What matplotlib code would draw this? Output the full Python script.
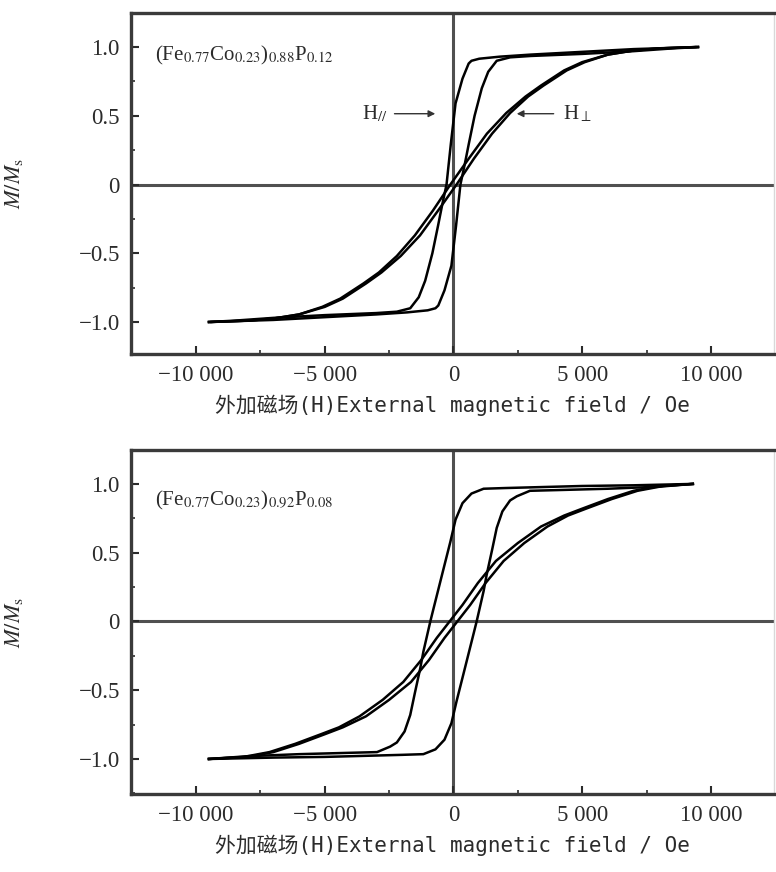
import matplotlib
matplotlib.use("Agg")
import matplotlib.pyplot as plt
from matplotlib.ticker import MultipleLocator

plt.rcParams['mathtext.fontset'] = 'stix'

# tick positions / labels
x_ticks = [-10000, -5000, 0, 5000, 10000]
x_tick_labels = ["\u221210 000", "\u22125 000", "0", "5 000", "10 000"]
y_ticks = [-1.0, -0.5, 0, 0.5, 1.0]
y_tick_labels = ["\u22121.0", "\u22120.5", "0", "0.5", "1.0"]

# ---- top panel: (Fe0.77Co0.23)0.88P0.12 ----
top_par_down_x = [9500, 7000, 5000, 3000, 1800, 1000, 700, 590, 350, 80, -100, -270, -430,
                  -600, -820, -1100, -1350, -1680, -2200, -3000, -5000, -7000, -8500, -9500]
top_par_down_y = [1.0, 0.985, 0.965, 0.945, 0.93, 0.915, 0.90, 0.88, 0.77, 0.59, 0.30, 0.0, -0.14,
                  -0.30, -0.50, -0.70, -0.82, -0.90, -0.925, -0.935, -0.95, -0.97, -0.99, -1.0]
top_par_up_x = [-9500, -7000, -5000, -3000, -1800, -1000, -700, -590, -350, -80, 100, 270, 430,
                600, 820, 1100, 1350, 1680, 2200, 3000, 5000, 7000, 8500, 9500]
top_par_up_y = [-1.0, -0.985, -0.965, -0.945, -0.93, -0.915, -0.90, -0.88, -0.77, -0.59, -0.30, 0.0, 0.14,
                0.30, 0.50, 0.70, 0.82, 0.90, 0.925, 0.935, 0.95, 0.97, 0.99, 1.0]

top_perp_down_x = [9400, 8000, 7000, 6000, 5000, 4300, 3400, 2800, 2050, 1300, 600, -120, -800,
                   -1500, -2200, -2900, -3500, -4400, -5100, -6000, -7000, -8000, -9500]
top_perp_down_y = [1.0, 0.99, 0.975, 0.945, 0.89, 0.83, 0.72, 0.64, 0.52, 0.37, 0.19, 0.0, -0.19,
                   -0.37, -0.52, -0.64, -0.72, -0.83, -0.89, -0.945, -0.975, -0.99, -1.0]
top_perp_up_x = [-9400, -8000, -7000, -6000, -5000, -4300, -3400, -2800, -2050, -1300, -600, 120, 800,
                 1500, 2200, 2900, 3500, 4400, 5100, 6000, 7000, 8000, 9500]
top_perp_up_y = [-1.0, -0.99, -0.975, -0.945, -0.89, -0.83, -0.72, -0.64, -0.52, -0.37, -0.19, 0.0, 0.19,
                 0.37, 0.52, 0.64, 0.72, 0.83, 0.89, 0.945, 0.975, 0.99, 1.0]

# ---- bottom panel: (Fe0.77Co0.23)0.92P0.08 ----
bot_par_down_x = [9300, 7000, 5000, 3000, 2000, 1170, 700, 350, 80, -120, -390, -780, -900,
                  -1170, -1290, -1500, -1680, -1900, -2200, -2460, -2970, -4000, -6000, -8000, -9500]
bot_par_down_y = [1.0, 0.99, 0.985, 0.975, 0.97, 0.965, 0.93, 0.86, 0.74, 0.58, 0.38, 0.09, 0.0,
                  -0.22, -0.34, -0.52, -0.68, -0.80, -0.88, -0.91, -0.95, -0.955, -0.965, -0.98, -1.0]
bot_par_up_x = [-9500, -7000, -5000, -3000, -2000, -1170, -700, -350, -80, 120, 390, 780, 900,
                1170, 1290, 1500, 1680, 1900, 2200, 2460, 2970, 4000, 6000, 8000, 9300]
bot_par_up_y = [-1.0, -0.99, -0.985, -0.975, -0.97, -0.965, -0.93, -0.86, -0.74, -0.58, -0.38, -0.09, 0.0,
                0.22, 0.34, 0.52, 0.68, 0.80, 0.88, 0.91, 0.95, 0.955, 0.965, 0.98, 1.0]

bot_perp_down_x = [9300, 8000, 7000, 6000, 5000, 4300, 3400, 2500, 1650, 950, 350, -150, -650,
                   -1250, -1950, -2750, -3650, -4450, -5150, -6150, -7150, -8150, -9500]
bot_perp_down_y = [1.0, 0.985, 0.95, 0.89, 0.82, 0.77, 0.69, 0.57, 0.44, 0.28, 0.12, 0.0, -0.12,
                   -0.28, -0.44, -0.57, -0.69, -0.77, -0.82, -0.89, -0.95, -0.985, -1.0]
bot_perp_up_x = [-9500, -8000, -7000, -6000, -5000, -4300, -3400, -2500, -1650, -950, -350, 150, 650,
                 1250, 1950, 2750, 3650, 4450, 5150, 6150, 7150, 8150, 9300]
bot_perp_up_y = [-1.0, -0.985, -0.95, -0.89, -0.82, -0.77, -0.69, -0.57, -0.44, -0.28, -0.12, 0.0, 0.12,
                 0.28, 0.44, 0.57, 0.69, 0.77, 0.82, 0.89, 0.95, 0.985, 1.0]

top_label = r"(Fe$_{0.77}$Co$_{0.23}$)$_{0.88}$P$_{0.12}$"
bot_label = r"(Fe$_{0.77}$Co$_{0.23}$)$_{0.92}$P$_{0.08}$"
xlabel = "外加磁场(H)External magnetic field / Oe"

SERIF = "Liberation Serif"
DARK = "#2b2b2b"

fig = plt.figure(figsize=(7.76, 8.72), dpi=100)
ax_top = fig.add_axes([0.1688, 0.594, 0.8285, 0.391])
ax_bot = fig.add_axes([0.1688, 0.0894, 0.8285, 0.3946])


def style_axes(ax, ylim):
    ax.set_xlim(-12530, 12450)
    ax.set_ylim(*ylim)
    ax.axhline(0, color="#505050", lw=2.2, zorder=1)
    ax.axvline(0, color="#505050", lw=2.2, zorder=1)
    ax.set_xticks(x_ticks)
    ax.set_xticklabels(x_tick_labels, fontfamily=SERIF, fontsize=16.5, color=DARK)
    ax.set_yticks(y_ticks)
    ax.set_yticklabels(y_tick_labels, fontfamily=SERIF, fontsize=16.5, color=DARK)
    ax.xaxis.set_minor_locator(MultipleLocator(2500))
    ax.yaxis.set_minor_locator(MultipleLocator(0.25))
    ax.tick_params(which="major", direction="in", length=6, width=1.5, color=DARK, pad=8)
    ax.tick_params(which="minor", direction="in", length=3, width=1.2, color=DARK)
    for side in ["left", "bottom", "top"]:
        ax.spines[side].set_color("#3a3a3a")
        ax.spines[side].set_linewidth(2.4)
    ax.spines["right"].set_color("#d8d8d8")
    ax.spines["right"].set_linewidth(1.0)
    ax.set_ylabel(r"$M/M_{\mathrm{s}}$", fontsize=16, color=DARK)
    ax.yaxis.set_label_coords(-0.165, 0.5)
    ax.set_xlabel(xlabel, fontsize=15, color=DARK,
                  family=["DejaVu Sans Mono", "Noto Sans CJK SC"], labelpad=6)


style_axes(ax_top, (-1.233, 1.247))
style_axes(ax_bot, (-1.255, 1.247))

lw = 1.8
ax_top.plot(top_par_down_x, top_par_down_y, color="black", lw=lw, zorder=3)
ax_top.plot(top_par_up_x, top_par_up_y, color="black", lw=lw, zorder=3)
ax_top.plot(top_perp_down_x, top_perp_down_y, color="black", lw=lw, zorder=3)
ax_top.plot(top_perp_up_x, top_perp_up_y, color="black", lw=lw, zorder=3)

ax_bot.plot(bot_par_down_x, bot_par_down_y, color="black", lw=lw, zorder=3)
ax_bot.plot(bot_par_up_x, bot_par_up_y, color="black", lw=lw, zorder=3)
ax_bot.plot(bot_perp_down_x, bot_perp_down_y, color="black", lw=lw, zorder=3)
ax_bot.plot(bot_perp_up_x, bot_perp_up_y, color="black", lw=lw, zorder=3)

ax_top.text(-11600, 0.94, top_label, fontfamily=SERIF, fontsize=15, color=DARK, va="center")
ax_bot.text(-11600, 0.88, bot_label, fontfamily=SERIF, fontsize=15, color=DARK, va="center")

# H// and H-perp pointers
arrow = dict(arrowstyle="-|>", color="#333333", lw=1.0, mutation_scale=10)
ax_top.annotate("", xy=(-600, 0.515), xytext=(-2400, 0.515), arrowprops=arrow)
ax_top.text(-2550, 0.515, r"H$_{//}$", fontfamily=SERIF, fontsize=15, color=DARK,
            ha="right", va="center")
ax_top.annotate("", xy=(2350, 0.515), xytext=(4000, 0.515), arrowprops=arrow)
ax_top.text(4250, 0.515, r"H$_{\perp}$", fontfamily=SERIF, fontsize=15, color=DARK,
            ha="left", va="center")

fig.savefig("out.png", dpi=100, facecolor="white")
